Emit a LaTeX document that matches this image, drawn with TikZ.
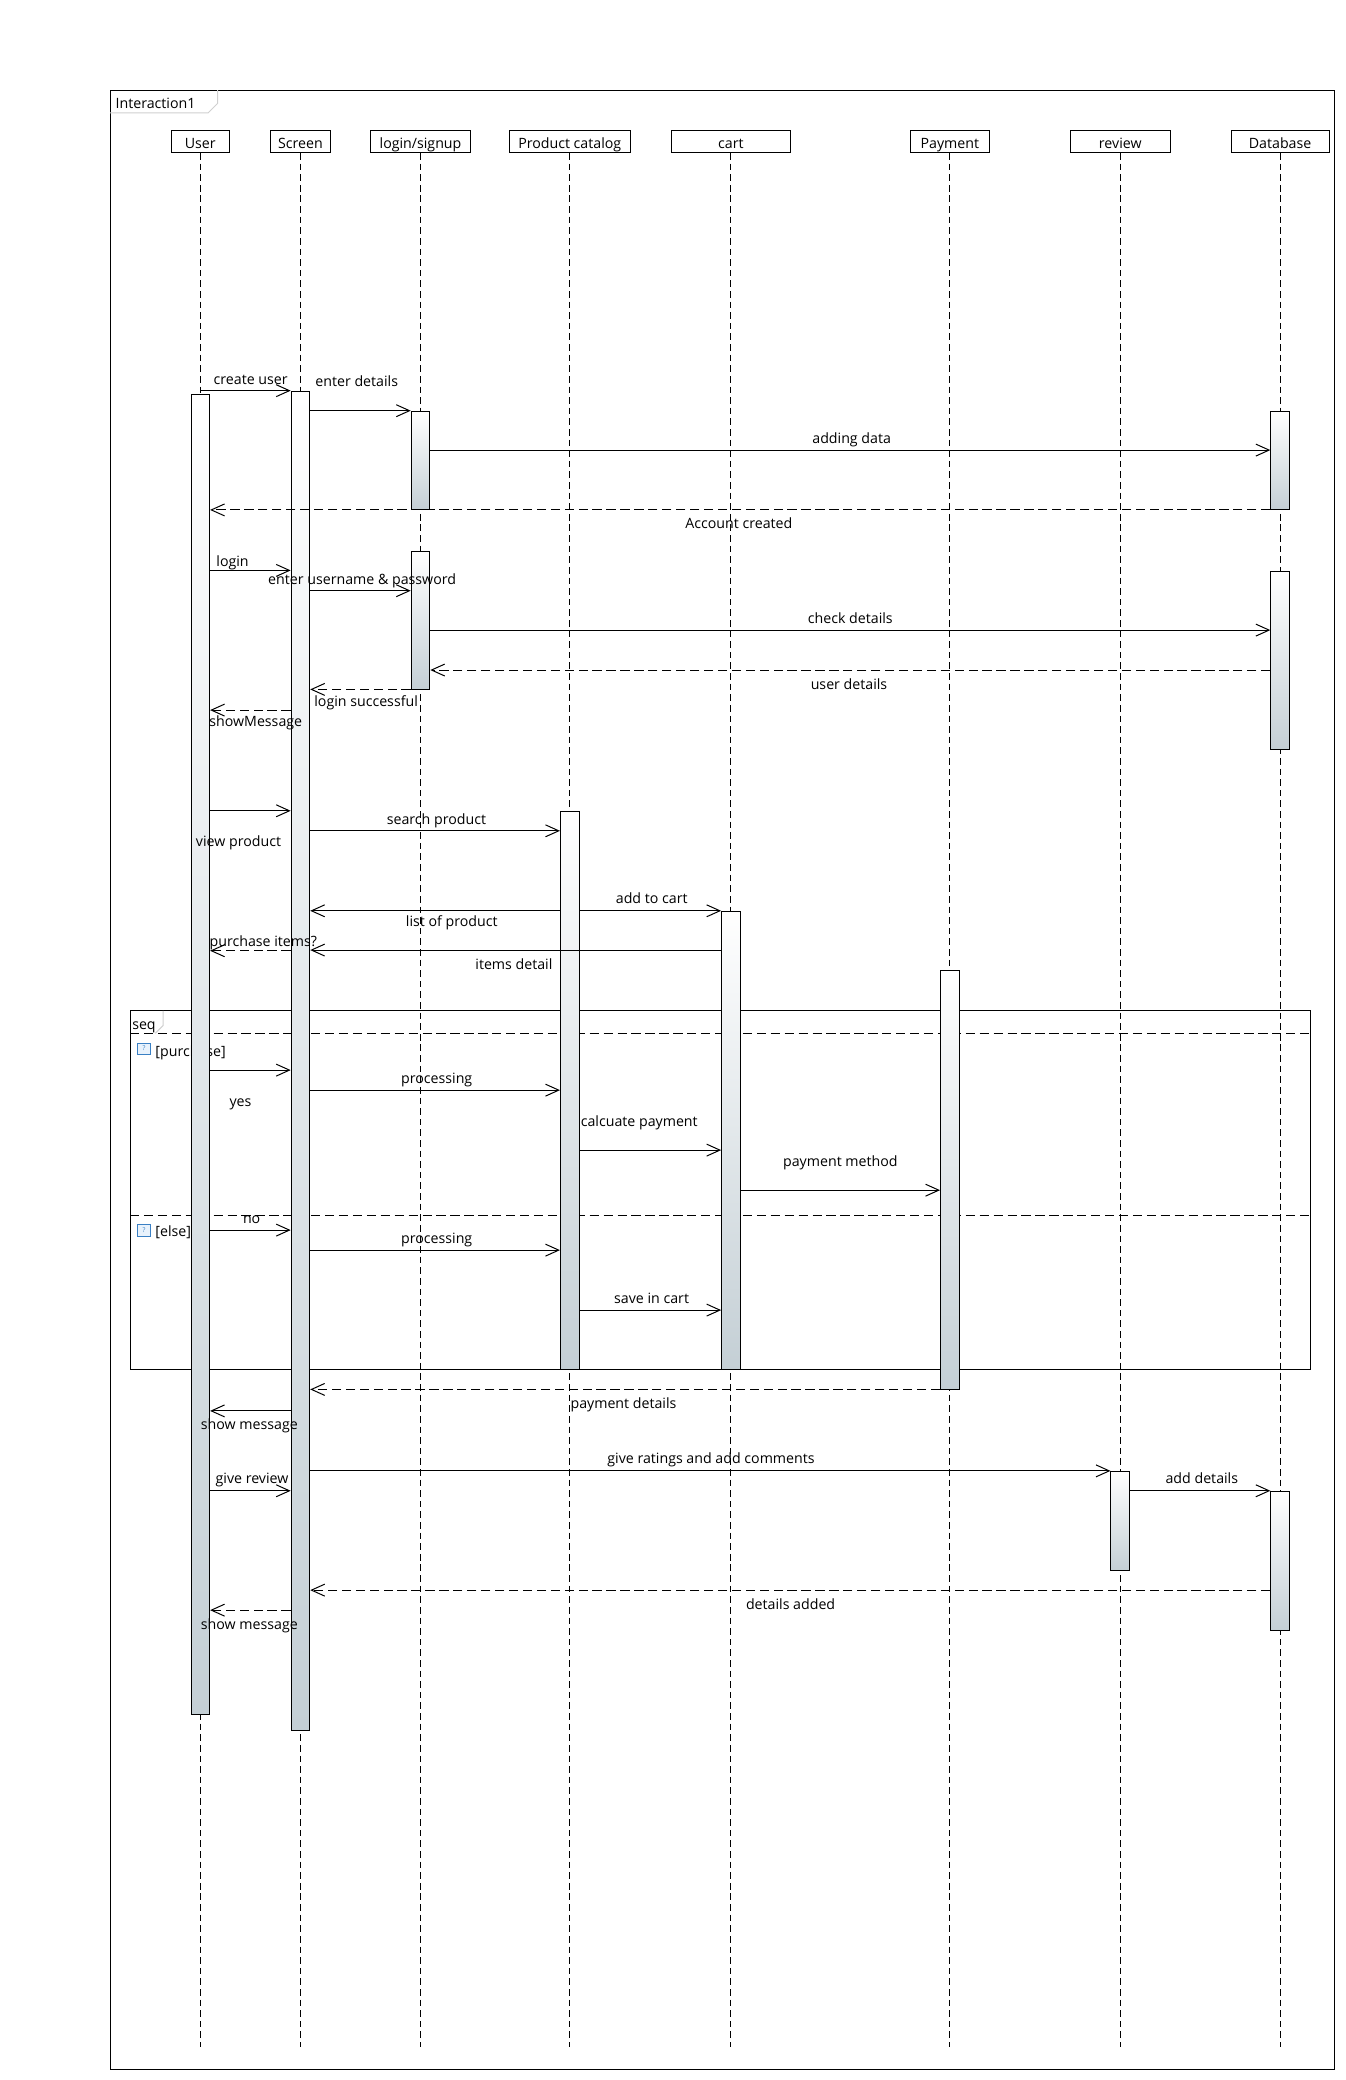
\documentclass[tikz,border=0pt]{standalone}
\usepackage{fontspec}
\setmainfont{Open Sans}
\usetikzlibrary{arrows.meta}

\definecolor{barbot}{RGB}{196,207,213}
\definecolor{tabgray}{RGB}{208,208,208}
\definecolor{iconblue}{RGB}{58,128,196}
\definecolor{iconfill}{RGB}{232,242,252}

\tikzset{
  txt/.style={font=\fontsize{10.7}{12}\selectfont},
  lbl/.style={txt, inner sep=0pt, anchor=base},
  lblw/.style={txt, inner sep=0pt, anchor=base west},
  head/.style={txt, draw, line width=0.75pt, fill=white, minimum height=17pt,
    inner sep=0pt, text height=12pt, text depth=0.4pt},
  life/.style={line width=0.75pt, dash pattern=on 5pt off 3pt},
  actbar/.style={draw, line width=0.75pt, top color=white, bottom color=barbot,
    minimum width=14pt, inner sep=0pt, anchor=north},
  msg/.style={line width=0.75pt, -{Straight Barb[length=10pt,width=9pt,line width=0.75pt]}},
  reply/.style={msg, dash pattern=on 7pt off 3.5pt},
  framebox/.style={draw, line width=0.75pt},
  tabline/.style={draw=tabgray, line width=0.75pt},
  sep/.style={line width=0.75pt, dash pattern=on 7pt off 3.5pt},
  guardicon/.style={draw=iconblue, fill=iconfill, line width=0.6pt, minimum width=10pt,
    minimum height=8.5pt, inner sep=0pt, text=iconblue,
    font=\fontsize{5}{5}\selectfont},
}

\begin{document}
\begin{tikzpicture}[x=1pt, y=-1pt]
\useasboundingbox (0,0) rectangle (1014,1568);
\fill[white] (0,0) rectangle (1014,1568);

% interaction frame
\draw[framebox] (83,68) rectangle (1006,1560);
\draw[tabline] (83,85) -- (157,85) -- (164,78) -- (164,68);
\node[lblw] (title) at (87,82) {Interaction1};

% lifeline heads
\node[head, minimum width=44pt] (user)  at (151,106.5)   {User};
\node[head, minimum width=45pt] (scr)   at (226.5,106.5) {Screen};
\node[head, minimum width=76pt] (login) at (317,106.5)   {login/signup};
\node[head, minimum width=91pt] (prod)  at (429.5,106.5) {Product catalog};
\node[head, minimum width=90pt] (cart)  at (551,106.5)   {cart};
\node[head, minimum width=60pt] (pay)   at (716,106.5)   {Payment};
\node[head, minimum width=75pt] (rev)   at (844.5,106.5) {review};
\node[head, minimum width=74pt] (db)    at (965,106.5)   {Database};

% lifelines
\coordinate (bot) at (0,1543);
\foreach \n in {user,scr,login,prod,cart,pay,rev,db}
  \draw[life] (\n.south) -- (\n |- bot);

% combined fragment
\draw[framebox] (98,762) rectangle (988,1032.3);
\draw[tabline] (123,762) -- (123,773) -- (117,779);
\node[lblw] (seqlbl) at (99.5,776) {seq};
\draw[sep] (98,779) -- (988,779);
\draw[sep] (98,916) -- (988,916);
\node[guardicon] (ic1) at (108.5,790.5) {?};
\node[lblw] (g1) at (117,796.7) {[purchase]};
\node[guardicon] (ic2) at (108.5,927.5) {?};
\node[lblw] (g2) at (117,932.4) {[else]};

% activations
\node[actbar, minimum height=995pt]   (uA)  at (user  |- 0,297)    {};
\node[actbar, minimum height=1009.5pt](sA)  at (scr   |- 0,294.5)  {};
\node[actbar, minimum height=74.4pt]  (l1)  at (login |- 0,309.6)  {};
\node[actbar, minimum height=104.5pt] (l2)  at (login |- 0,415.2)  {};
\node[actbar, minimum height=74.4pt]  (d1)  at (db    |- 0,309.6)  {};
\node[actbar, minimum height=134.7pt] (d2)  at (db    |- 0,430.3)  {};
\node[actbar, minimum height=421.1pt] (pc)  at (prod  |- 0,611.2)  {};
\node[actbar, minimum height=345.7pt] (ct)  at (cart  |- 0,686.6)  {};
\node[actbar, minimum height=316.4pt] (pm)  at (pay   |- 0,731)    {};
\node[actbar, minimum height=74.4pt]  (rv)  at (rev   |- 0,1108.8) {};
\node[actbar, minimum height=104.6pt] (d3)  at (db    |- 0,1123.8) {};

% messages
\draw[msg]   (user |- 0,294.5)  -- (sA.west |- 0,294.5);
\draw[msg]   (sA.east |- 0,309.6) -- (l1.west |- 0,309.6);
\draw[msg]   (l1.east |- 0,339.3) -- (d1.west |- 0,339.3);
\draw[reply] (d1.west |- 0,384.4) -- (uA.east |- 0,384.4);
\draw[msg]   (uA.east |- 0,430)   -- (sA.west |- 0,430);
\draw[msg]   (sA.east |- 0,445.3) -- (l2.west |- 0,445.3);
\draw[msg]   (l2.east |- 0,475)   -- (d2.west |- 0,475);
\draw[reply] (d2.west |- 0,505.1) -- (l2.east |- 0,505.1);
\draw[reply] (l2.west |- 0,519.7) -- (sA.east |- 0,519.7);
\draw[reply] (sA.west |- 0,535.3) -- (uA.east |- 0,535.3);
\draw[msg]   (uA.east |- 0,611.2) -- (sA.west |- 0,611.2);
\draw[msg]   (sA.east |- 0,626.3) -- (pc.west |- 0,626.3);
\draw[msg]   (pc.east |- 0,686.6) -- (ct.west |- 0,686.6);
\draw[msg]   (pc.west |- 0,686.6) -- (sA.east |- 0,686.6);
\draw[msg]   (ct.west |- 0,716.2) -- (sA.east |- 0,716.2);
\draw[reply] (sA.west |- 0,716.7) -- (uA.east |- 0,716.7);
\draw[msg]   (uA.east |- 0,806.7) -- (sA.west |- 0,806.7);
\draw[msg]   (sA.east |- 0,821.8) -- (pc.west |- 0,821.8);
\draw[msg]   (pc.east |- 0,867)   -- (ct.west |- 0,867);
\draw[msg]   (ct.east |- 0,897.2) -- (pm.west |- 0,897.2);
\draw[msg]   (uA.east |- 0,927.3) -- (sA.west |- 0,927.3);
\draw[msg]   (sA.east |- 0,942.4) -- (pc.west |- 0,942.4);
\draw[msg]   (pc.east |- 0,987.6) -- (ct.west |- 0,987.6);
\draw[reply] (pm.west |- 0,1047.4) -- (sA.east |- 0,1047.4);
\draw[msg]   (sA.west |- 0,1063.6) -- (uA.east |- 0,1063.6);
\draw[msg]   (sA.east |- 0,1108.8) -- (rv.west |- 0,1108.8);
\draw[msg]   (uA.east |- 0,1123.8) -- (sA.west |- 0,1123.8);
\draw[msg]   (rv.east |- 0,1123.8) -- (d3.west |- 0,1123.8);
\draw[reply] (d3.west |- 0,1198.7) -- (sA.east |- 0,1198.7);
\draw[reply] (sA.west |- 0,1213.8) -- (uA.east |- 0,1213.8);

% message labels
\node[lbl] (t1)  at (189,289.5)   {create user};
\node[lbl] (t2)  at (268.9,291.5) {enter details};
\node[lbl] (t3)  at (642,334)     {adding data};
\node[lbl] (t4)  at (557,398.5)   {Account created};
\node[lbl] (t5)  at (175.3,427)   {login};
\node[lbl] (t6)  at (273,440.3)   {enter username \& password};
\node[lbl] (t7)  at (641,470)     {check details};
\node[lbl] (t8)  at (640,520)     {user details};
\node[lbl] (t9)  at (276,532.8)   {login successful};
\node[lbl] (t10) at (192.8,547.4) {showMessage};
\node[lbl] (t11) at (179.8,638.3) {view product};
\node[lbl] (t12) at (329,621.2)   {search product};
\node[lbl] (t13) at (491.3,681)   {add to cart};
\node[lbl] (t14) at (340.6,698.7) {list of product};
\node[lbl] (t15) at (198.5,713.7) {purchase items?};
\node[lbl] (t16) at (387.4,730.8) {items detail};
\node[lbl] (t17) at (181.3,833.8) {yes};
\node[lbl] (t18) at (329.2,816.7) {processing};
\node[lbl] (t19) at (481.9,849.4) {calcuate payment};
\node[lbl] (t20) at (633.5,879.6) {payment method};
\node[lbl] (t21) at (189.7,922.3) {no};
\node[lbl] (t22) at (329.2,937.4) {processing};
\node[lbl] (t23) at (491.2,982.6) {save in cart};
\node[lbl] (t24) at (470,1062)    {payment details};
\node[lbl] (t25) at (188,1077.6)  {show message};
\node[lbl] (t26) at (536,1103)    {give ratings and add comments};
\node[lbl] (t27) at (190,1118.3)  {give review};
\node[lbl] (t28) at (906,1118.3)  {add details};
\node[lbl] (t29) at (596,1213)    {details added};
\node[lbl] (t30) at (188,1228.4)  {show message};
\end{tikzpicture}
\end{document}
